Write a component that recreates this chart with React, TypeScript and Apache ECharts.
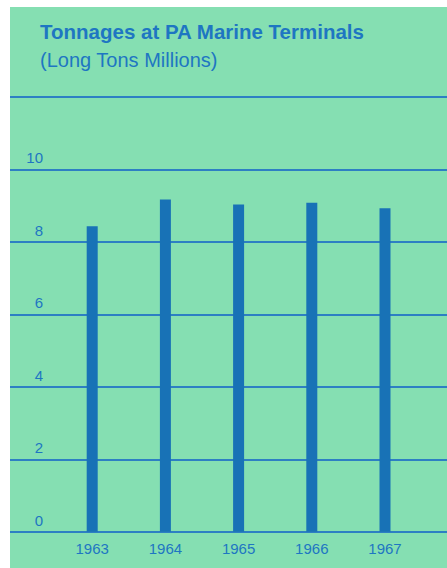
import React, { useEffect, useRef } from "react";
import * as echarts from "echarts";

const years = ["1963", "1964", "1965", "1966", "1967"];
const tonnages = [8.43, 9.17, 9.03, 9.08, 8.93];
const yTicks = [0, 2, 4, 6, 8, 10, 12];
const titleText = "Tonnages at PA Marine Terminals";
const subtitleText = "(Long Tons Millions)";

const GREEN = "#85dfb2";
const BLUE = "#1e76c2";
const BAR = "#1872b6";
const LINE = "#2d7fc3";

export default function App() {
  const ref = useRef<HTMLDivElement>(null);
  useEffect(() => {
    if (!ref.current) return;
    const chart = echarts.init(ref.current, null, { renderer: "svg" });
    const font = "'Liberation Sans', Arial, Helvetica, sans-serif";
    chart.setOption({
      animation: false,
      backgroundColor: "#ffffff",
      graphic: [
        {
          type: "rect",
          z: -10,
          shape: { x: 10, y: 7, width: 437, height: 561 },
          style: { fill: GREEN },
          silent: true,
        },
      ],
      title: {
        text: titleText,
        subtext: subtitleText,
        left: 40,
        top: 21,
        padding: 0,
        itemGap: 8,
        textStyle: {
          fontFamily: font,
          fontSize: 20.5,
          fontWeight: "bold",
          color: BLUE,
          lineHeight: 20,
        },
        subtextStyle: {
          fontFamily: font,
          fontSize: 20,
          color: BLUE,
          lineHeight: 20,
        },
      },
      grid: [
        { left: 10, right: 0, top: 97, bottom: 36.3 },
        { left: 55.6, width: 366, top: 97, bottom: 36.3 },
      ],
      xAxis: [
        { type: "value", gridIndex: 0, show: false, min: 0, max: 1 },
        {
          type: "category",
          gridIndex: 1,
          data: years,
          axisLine: { show: false },
          axisTick: { show: false },
          axisLabel: {
            fontFamily: font,
            fontSize: 15,
            color: BLUE,
            margin: 9,
          },
        },
      ],
      yAxis: [
        {
          type: "value",
          gridIndex: 0,
          min: yTicks[0],
          max: yTicks[yTicks.length - 1],
          interval: 2,
          axisLine: { show: false },
          axisTick: { show: false },
          splitLine: { show: true, lineStyle: { color: LINE, width: 2 } },
          axisLabel: {
            inside: true,
            align: "right",
            margin: 33,
            verticalAlign: "bottom",
            padding: [0, 0, 4, 0],
            fontFamily: font,
            fontSize: 15,
            color: BLUE,
            formatter: (v: number) => (v === 12 ? "" : String(v)),
          },
        },
        {
          type: "value",
          gridIndex: 1,
          min: 0,
          max: 12,
          show: false,
          splitLine: { show: false },
        },
      ],
      series: [
        {
          type: "bar",
          xAxisIndex: 1,
          yAxisIndex: 1,
          data: tonnages,
          barWidth: 11,
          itemStyle: { color: BAR },
          z: 3,
        },
      ],
    });
    return () => chart.dispose();
  }, []);
  return (
    <div
      ref={ref}
      style={{ position: "fixed", left: 0, top: 0, width: 447, height: 568 }}
    />
  );
}
